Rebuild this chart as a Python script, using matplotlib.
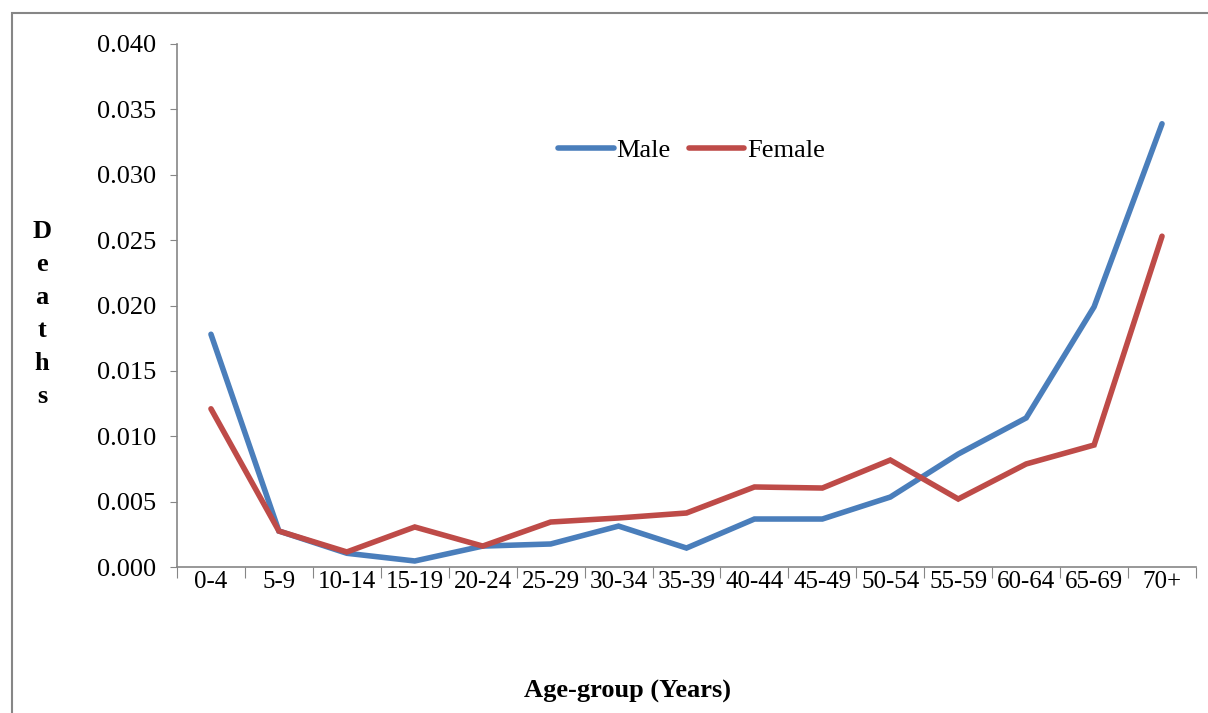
import matplotlib.pyplot as plt
from matplotlib.patches import Rectangle

# datos
grupos = ['0-4', '5-9', '10-14', '15-19', '20-24', '25-29', '30-34', '35-39',
          '40-44', '45-49', '50-54', '55-59', '60-64', '65-69', '70+']
male = [0.0178, 0.00275, 0.00105, 0.00046, 0.0016, 0.00176, 0.00313, 0.00145,
        0.00367, 0.00367, 0.00535, 0.00864, 0.0114, 0.0199, 0.0339]
female = [0.0121, 0.00275, 0.00115, 0.00306, 0.0016, 0.00344, 0.00375, 0.00413,
          0.00612, 0.00604, 0.00818, 0.0052, 0.00788, 0.00933, 0.0253]
yticks = [0.000, 0.005, 0.010, 0.015, 0.020, 0.025, 0.030, 0.035, 0.040]

plt.rcParams['font.family'] = ['Liberation Serif', 'DejaVu Serif']
FS = 19

fig = plt.figure(figsize=(12.08, 7.13), dpi=100)
ax = fig.add_axes([177 / 1208, 1 - 567 / 713, (1196 - 177) / 1208, (567 - 44) / 713])

x = list(range(len(grupos)))
ax.plot(x, male, color='#4A7EBB', lw=4, label='Male', solid_capstyle='round', solid_joinstyle='miter')
ax.plot(x, female, color='#BE4B48', lw=4, label='Female', solid_capstyle='round', solid_joinstyle='miter')

ax.set_xlim(-0.5, len(grupos) - 0.5)
ax.set_ylim(0, 0.040)
ax.set_yticks(yticks)
ax.set_yticklabels([f'{v:.3f}' for v in yticks], fontsize=FS)

ax.set_xticks([i - 0.5 for i in range(len(grupos) + 1)])
ax.set_xticklabels([])
ax.set_xticks(x, minor=True)
ax.set_xticklabels(grupos, minor=True, fontsize=18)
ax.tick_params(axis='x', which='major', length=8, color='#868686', direction='out')
ax.tick_params(axis='x', which='minor', length=0, pad=3)
ax.tick_params(axis='y', length=5, color='#868686', pad=10)

for s in ['top', 'right']:
    ax.spines[s].set_visible(False)
for s in ['left', 'bottom']:
    ax.spines[s].set_color('#868686')
    ax.spines[s].set_linewidth(1.2)

ax.legend(loc='upper center', bbox_to_anchor=(0.505, 0.865), ncol=2, frameon=False,
          fontsize=FS, handlelength=2.1, handletextpad=0.1, columnspacing=0.7)

fig.text(42 / 1208, 1 - 314 / 713, 'D\ne\na\nt\nh\ns', ha='center', va='center',
         fontsize=FS, fontweight='bold', linespacing=1.55)
fig.text(627 / 1208, 1 - 691 / 713, 'Age-group (Years)', ha='center', va='center',
         fontsize=FS, fontweight='bold')

fig.patches.append(Rectangle((12 / 1208, -0.05), 1.1, 1 - 13 / 713 + 0.05,
                             transform=fig.transFigure, fill=False,
                             edgecolor='#868686', lw=1.5))

fig.savefig('out.png', dpi=100)
